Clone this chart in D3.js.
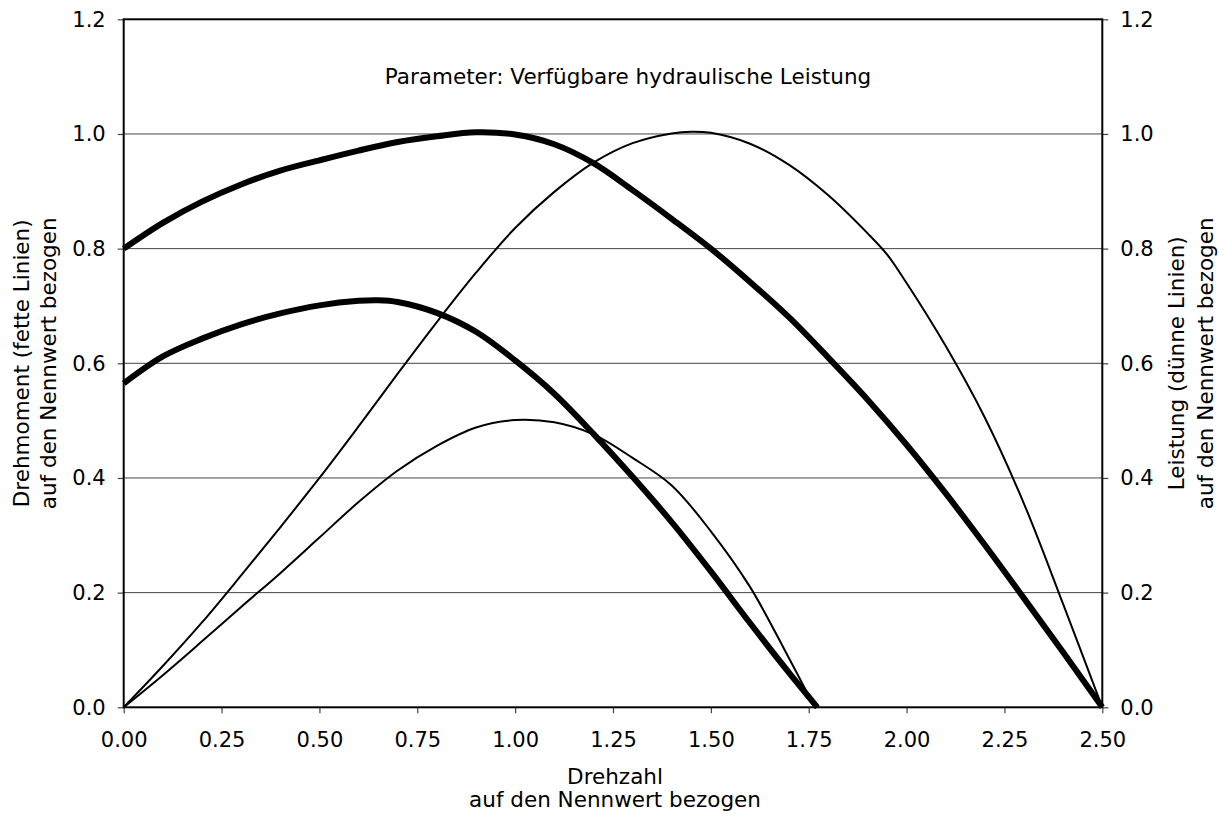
<!DOCTYPE html>
<html>
<head>
<meta charset="utf-8">
<script src="https://cdn.jsdelivr.net/npm/d3@7"></script>
<style>
  body { margin: 0; background: #fff; }
  text { font-family: "DejaVu Sans", Verdana, sans-serif; fill: #000; }
</style>
</head>
<body>
<script>
// Drehzahl (x) und Werte, alle auf den Nennwert bezogen
var torqueHighX = [0, 0.1, 0.2, 0.3, 0.4, 0.5, 0.6, 0.7, 0.8, 0.9, 1.0, 1.1, 1.2, 1.3, 1.4, 1.5, 1.6, 1.7, 1.8, 1.9, 2.0, 2.1, 2.2, 2.3, 2.4, 2.5];
var torqueHighY = [0.80, 0.845, 0.882, 0.912, 0.936, 0.954, 0.971, 0.986, 0.996, 1.003, 0.999, 0.982, 0.949, 0.902, 0.852, 0.800, 0.742, 0.680, 0.610, 0.537, 0.458, 0.373, 0.283, 0.190, 0.096, 0];

var torqueLowX = [0, 0.1, 0.2, 0.3, 0.4, 0.5, 0.6, 0.65, 0.7, 0.8, 0.9, 1.0, 1.1, 1.2, 1.3, 1.4, 1.5, 1.6, 1.7, 1.772];
var torqueLowY = [0.565, 0.612, 0.643, 0.668, 0.687, 0.701, 0.709, 0.710, 0.707, 0.688, 0.655, 0.605, 0.547, 0.477, 0.402, 0.323, 0.237, 0.147, 0.060, 0];

var powerHighX = [0, 0.1, 0.2, 0.3, 0.4, 0.5, 0.6, 0.7, 0.8, 0.9, 1.0, 1.1, 1.2, 1.3, 1.4, 1.45, 1.5, 1.6, 1.7, 1.8, 1.9, 1.95, 2.0, 2.1, 2.2, 2.3, 2.4, 2.5];
var powerHighY = [0, 0.072, 0.148, 0.230, 0.314, 0.400, 0.490, 0.582, 0.672, 0.758, 0.836, 0.899, 0.950, 0.984, 1.001, 1.004, 1.002, 0.983, 0.946, 0.893, 0.827, 0.790, 0.740, 0.630, 0.505, 0.355, 0.180, 0];

var powerLowX = [0, 0.1, 0.2, 0.3, 0.4, 0.5, 0.6, 0.7, 0.8, 0.9, 1.0, 1.1, 1.2, 1.3, 1.4, 1.5, 1.6, 1.7, 1.765];
var powerLowY = [0, 0.056, 0.115, 0.175, 0.234, 0.296, 0.358, 0.413, 0.456, 0.488, 0.501, 0.497, 0.476, 0.435, 0.387, 0.307, 0.210, 0.085, 0];

var xTicks = [0, 0.25, 0.5, 0.75, 1.0, 1.25, 1.5, 1.75, 2.0, 2.25, 2.5];
var yTicks = [0, 0.2, 0.4, 0.6, 0.8, 1.0, 1.2];

var titleText = "Parameter: Verfügbare hydraulische Leistung";
var xTitle = ["Drehzahl", "auf den Nennwert bezogen"];
var yLeftTitle = ["Drehmoment (fette Linien)", "auf den Nennwert bezogen"];
var yRightTitle = ["Leistung (dünne Linien)", "auf den Nennwert bezogen"];

var width = 1231, height = 818;
var plotLeft = 123.7, plotRight = 1102.3, plotTop = 19.3, plotBottom = 707.3;
var tickFs = 21, labelFs = 21.5, titleFs = 21.5;

var svg = d3.select("body").append("svg")
    .attr("width", width)
    .attr("height", height);

var x = d3.scaleLinear().domain([0, 2.5]).range([plotLeft, plotRight]);
var y = d3.scaleLinear().domain([0, 1.2]).range([plotBottom, plotTop]);

// gridlines
svg.append("g")
  .selectAll("line")
  .data(yTicks.slice(1, -1))
  .enter().append("line")
    .attr("x1", plotLeft).attr("x2", plotRight)
    .attr("y1", function(d) { return y(d); })
    .attr("y2", function(d) { return y(d); })
    .attr("stroke", "#444")
    .attr("stroke-width", 1);

function styleAxis(g) {
  g.select(".domain").remove();
  g.selectAll(".tick line").attr("stroke", "#444").attr("stroke-width", 1.2);
  g.selectAll(".tick text").style("font-size", tickFs + "px").attr("fill", "#000");
}

svg.append("g")
  .attr("transform", "translate(" + plotLeft + ",0)")
  .call(d3.axisLeft(y).tickValues(yTicks).tickFormat(d3.format(".1f")).tickSize(6).tickPadding(12))
  .call(styleAxis);

svg.append("g")
  .attr("transform", "translate(" + plotRight + ",0)")
  .call(d3.axisRight(y).tickValues(yTicks).tickFormat(d3.format(".1f")).tickSize(6).tickPadding(12))
  .call(styleAxis);

svg.append("g")
  .attr("transform", "translate(0," + plotBottom + ")")
  .call(d3.axisBottom(x).tickValues(xTicks).tickFormat(d3.format(".2f")).tickSize(6).tickPadding(19))
  .call(styleAxis);

// frame
svg.append("rect")
  .attr("x", plotLeft).attr("y", plotTop)
  .attr("width", plotRight - plotLeft).attr("height", plotBottom - plotTop)
  .attr("fill", "none")
  .attr("stroke", "#000")
  .attr("stroke-width", 2);

var line = d3.line()
  .x(function(d) { return x(d[0]); })
  .y(function(d) { return y(d[1]); })
  .curve(d3.curveCatmullRom.alpha(0.5));

function pairs(xs, ys) { return xs.map(function(v, i) { return [v, ys[i]]; }); }

var series = [
  { data: pairs(powerHighX, powerHighY), w: 2 },
  { data: pairs(powerLowX, powerLowY), w: 2 },
  { data: pairs(torqueHighX, torqueHighY), w: 6 },
  { data: pairs(torqueLowX, torqueLowY), w: 6 }
];

svg.append("g")
  .selectAll("path")
  .data(series)
  .enter().append("path")
    .attr("d", function(d) { return line(d.data); })
    .attr("fill", "none")
    .attr("stroke", "#000")
    .attr("stroke-width", function(d) { return d.w; })
    .attr("stroke-linejoin", "round");

// title
svg.append("text")
  .attr("x", 628).attr("y", 84)
  .attr("text-anchor", "middle")
  .style("font-size", titleFs + "px")
  .text(titleText);

// x title
svg.selectAll(".xt")
  .data(xTitle)
  .enter().append("text")
    .attr("x", 615)
    .attr("y", function(d, i) { return 784 + i * 23; })
    .attr("text-anchor", "middle")
    .style("font-size", labelFs + "px")
    .text(function(d) { return d; });

var cy = (plotTop + plotBottom) / 2;

svg.selectAll(".yl")
  .data(yLeftTitle)
  .enter().append("text")
    .attr("transform", function(d, i) { return "translate(" + (29 + i * 27) + "," + cy + ")rotate(-90)"; })
    .attr("text-anchor", "middle")
    .style("font-size", labelFs + "px")
    .text(function(d) { return d; });

svg.selectAll(".yr")
  .data(yRightTitle)
  .enter().append("text")
    .attr("transform", function(d, i) { return "translate(" + (1184 + i * 29) + "," + cy + ")rotate(-90)"; })
    .attr("text-anchor", "middle")
    .style("font-size", labelFs + "px")
    .text(function(d) { return d; });
</script>
</body>
</html>
